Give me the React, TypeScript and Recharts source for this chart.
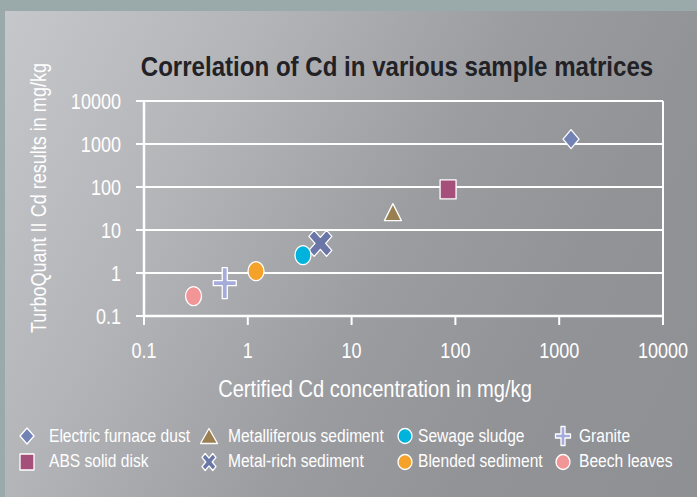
import React from 'react';
import { CartesianGrid, ReferenceLine, Scatter, ScatterChart, XAxis, YAxis } from 'recharts';

// sample matrices, in legend order (column by column)
const sampleNames = [
  'Electric furnace dust',
  'ABS solid disk',
  'Metalliferous sediment',
  'Metal-rich sediment',
  'Sewage sludge',
  'Blended sediment',
  'Granite',
  'Beech leaves',
];
const certifiedCd = [1300, 85, 25, 5.0, 3.4, 1.2, 0.6, 0.3];
const turboQuantCd = [1300, 88, 26, 4.9, 2.6, 1.1, 0.58, 0.29];
const axisTicks = [0.1, 1, 10, 100, 1000, 10000];

const markerKinds = ['diamond', 'square', 'triangle', 'x', 'circle', 'circle', 'plus', 'circle'];
const markerColors = ['#7282b4', '#a4507a', '#9a8050', '#6a76a8', '#00b3dd', '#f5a22a', '#a5acdb', '#f19597'];

// no Arial Narrow here, so squeeze Liberation Sans the same way
const FONT = '"Liberation Sans", Arial, sans-serif';
const NARROW = 0.82;

const W = 697;
const H = 497;

const plotSize: Record<string, [number, number]> = {
  diamond: [16, 19],
  square: [16, 19],
  triangle: [17, 17],
  x: [23, 26],
  circle: [16, 19],
  plus: [23, 31],
};
const legendSize: Record<string, [number, number]> = {
  diamond: [14, 16],
  square: [14, 16],
  triangle: [17, 15],
  x: [14, 17],
  circle: [14, 15],
  plus: [15, 19],
};

const crossPts = (hw: number, hh: number, t: number) => [
  [-t, -hh], [t, -hh], [t, -t], [hw, -t], [hw, t], [t, t],
  [t, hh], [-t, hh], [-t, t], [-hw, t], [-hw, -t], [-t, -t],
];

function markerPath(kind: string, cx: number, cy: number, w: number, h: number) {
  const hw = w / 2;
  const hh = h / 2;
  if (kind === 'diamond') return `M${cx},${cy - hh}L${cx + hw},${cy}L${cx},${cy + hh}L${cx - hw},${cy}Z`;
  if (kind === 'square') return `M${cx - hw},${cy - hh}h${w}v${h}h${-w}Z`;
  if (kind === 'triangle') return `M${cx},${cy - hh}L${cx + hw},${cy + hh}L${cx - hw},${cy + hh}Z`;
  if (kind === 'plus') {
    const t = Math.max(2, w * 0.11);
    return 'M' + crossPts(hw, hh, t).map(([px, py]) => `${cx + px},${cy + py}`).join('L') + 'Z';
  }
  // x: a plus turned 45 degrees, then stretched to the box
  const a = 1;
  const t = 0.3;
  const ext = (a + t) / Math.SQRT2;
  const c = Math.SQRT1_2;
  return (
    'M' +
    crossPts(a, a, t)
      .map(([px, py]) => {
        const rx = (px * c - py * c) / ext;
        const ry = (px * c + py * c) / ext;
        return `${cx + rx * hw},${cy + ry * hh}`;
      })
      .join('L') +
    'Z'
  );
}

const Marker: React.FC<{ kind: string; cx: number; cy: number; w: number; h: number; fill: string }> = ({
  kind, cx, cy, w, h, fill,
}) => {
  if (kind === 'circle') {
    return <ellipse cx={cx} cy={cy} rx={w / 2} ry={h / 2} fill={fill} stroke="#fff" strokeWidth={1.3} />;
  }
  return (
    <path d={markerPath(kind, cx, cy, w, h)} fill={fill} stroke="#fff" strokeWidth={1.3} strokeLinejoin="round" />
  );
};

const NarrowText: React.FC<{
  x: number;
  y: number;
  size: number;
  anchor?: 'start' | 'middle' | 'end';
  rotate?: number;
  squeeze?: number;
  bold?: boolean;
  fill?: string;
  children: React.ReactNode;
}> = ({ x, y, size, anchor = 'start', rotate = 0, squeeze = NARROW, bold = false, fill = '#fff', children }) => (
  <text
    transform={`translate(${x},${y}) rotate(${rotate}) scale(${squeeze},1)`}
    textAnchor={anchor}
    fontFamily={FONT}
    fontWeight={bold ? 'bold' : 'normal'}
    fontSize={size}
    fill={fill}
  >
    {children}
  </text>
);

const TICK_SIZE = 22;

const XTick = (p: any) => (
  <NarrowText x={p.x} y={p.y + TICK_SIZE * 0.71} size={TICK_SIZE} anchor="middle">
    {String(p.payload.value)}
  </NarrowText>
);

const YTick = (p: any) => (
  <NarrowText x={p.x} y={p.y + TICK_SIZE * 0.355} size={TICK_SIZE} anchor="end">
    {String(p.payload.value)}
  </NarrowText>
);

const legendIconX = [27, 209, 405, 563];
const legendTextX = [49, 228, 418, 579];
const legendIconY = [436, 462];
const legendTextY = [442, 467];

const App: React.FC = () => {
  return (
    <div style={{ position: 'absolute', left: 0, top: 0, width: W, height: H, background: '#9aa9a9', overflow: 'hidden' }}>
      <div
        style={{
          position: 'absolute',
          left: 5,
          top: 11,
          right: 0,
          bottom: 0,
          background: 'linear-gradient(118deg, #c6c7cb 0%, #b3b4b8 28%, #9b9ca0 55%, #929397 75%, #8f9094 100%)',
        }}
      />
      <div style={{ position: 'absolute', left: 0, top: 0 }}>
        <ScatterChart width={W} height={H} margin={{ top: 101, right: 34, bottom: 121, left: 0 }}>
          <CartesianGrid vertical={false} stroke="#fff" strokeWidth={2} />
          <XAxis
            type="number"
            dataKey="x"
            scale="log"
            domain={[0.1, 10000]}
            ticks={axisTicks}
            height={60}
            axisLine={{ stroke: '#fff', strokeWidth: 2.5 }}
            tickLine={{ stroke: '#fff', strokeWidth: 2 }}
            tickSize={9}
            tickMargin={17}
            tick={XTick}
            allowDataOverflow
          />
          <YAxis
            type="number"
            dataKey="y"
            scale="log"
            domain={[0.1, 10000]}
            ticks={axisTicks}
            width={144}
            axisLine={{ stroke: '#fff', strokeWidth: 2.5 }}
            tickLine={{ stroke: '#fff', strokeWidth: 2 }}
            tickSize={8}
            tickMargin={15}
            tick={YTick}
            allowDataOverflow
          />
          <ReferenceLine x={10000} stroke="#fff" strokeWidth={2} />
          {sampleNames.map((name, i) => (
            <Scatter
              key={name}
              name={name}
              data={[{ x: certifiedCd[i], y: turboQuantCd[i] }]}
              isAnimationActive={false}
              shape={(p: any) => (
                <Marker
                  kind={markerKinds[i]}
                  cx={p.cx}
                  cy={p.cy}
                  w={plotSize[markerKinds[i]][0]}
                  h={plotSize[markerKinds[i]][1]}
                  fill={markerColors[i]}
                />
              )}
            />
          ))}
        </ScatterChart>
      </div>
      <svg width={W} height={H} style={{ position: 'absolute', left: 0, top: 0, pointerEvents: 'none' }}>
        <NarrowText x={397} y={76} size={28} anchor="middle" squeeze={0.86} bold fill="#222226">
          Correlation of Cd in various sample matrices
        </NarrowText>
        <NarrowText x={375} y={397} size={24.5} anchor="middle">
          Certified Cd concentration in mg/kg
        </NarrowText>
        <NarrowText x={46} y={198} size={22} anchor="middle" rotate={-90}>
          TurboQuant II Cd results in mg/kg
        </NarrowText>
        {sampleNames.map((name, i) => {
          const col = Math.floor(i / 2);
          const row = i % 2;
          const kind = markerKinds[i];
          return (
            <g key={name}>
              <Marker
                kind={kind}
                cx={legendIconX[col]}
                cy={legendIconY[row]}
                w={legendSize[kind][0]}
                h={legendSize[kind][1]}
                fill={markerColors[i]}
              />
              <NarrowText x={legendTextX[col]} y={legendTextY[row]} size={19}>
                {name}
              </NarrowText>
            </g>
          );
        })}
      </svg>
    </div>
  );
};

export default App;
